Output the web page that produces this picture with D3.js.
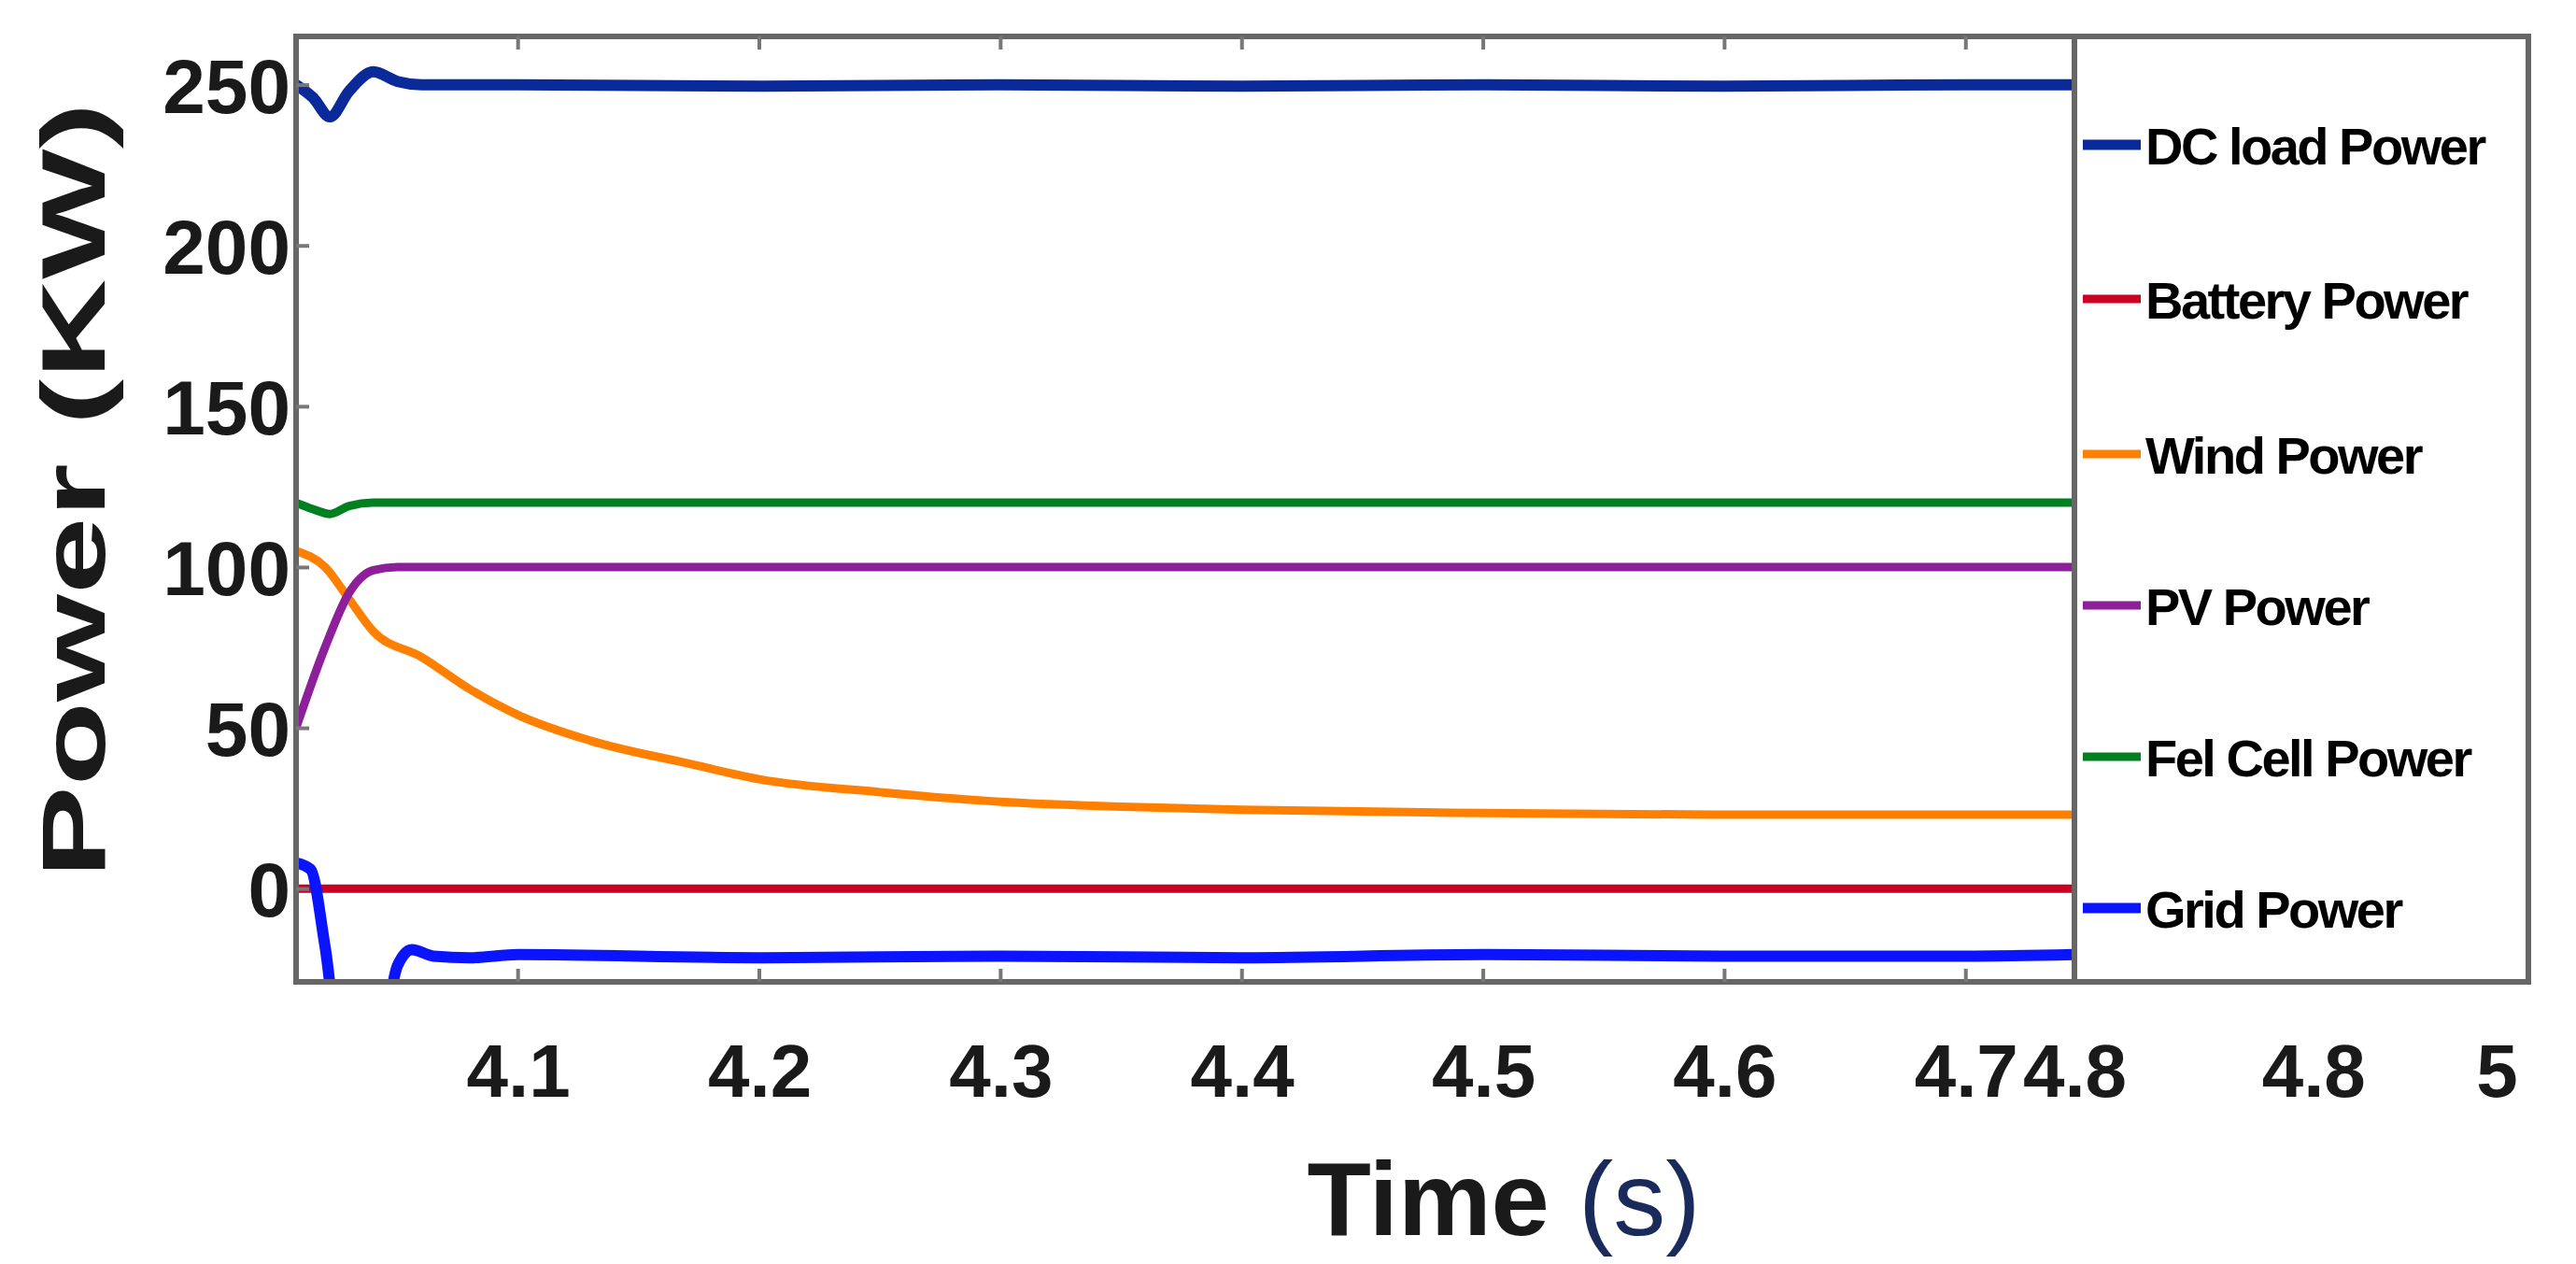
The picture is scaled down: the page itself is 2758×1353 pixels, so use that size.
<!DOCTYPE html>
<html><head><meta charset="utf-8">
<script src="https://cdn.jsdelivr.net/npm/d3@7"></script>
<style>body{margin:0;background:#fff}svg{display:block}</style>
</head><body>
<svg id="chart" width="2758" height="1353"></svg>
<script>
// data
var seriesNames = ['DC load Power','Battery Power','Wind Power','PV Power','Fel Cell Power','Grid Power'];
var seriesColors = ['#0a2a9a','#cc0022','#ff8000','#8e1f9a','#008020','#0a14ff'];
var dcT   = [4.008,4.015,4.022,4.03,4.04,4.05,4.06,4.1,4.2,4.3,4.4,4.5,4.6,4.7,4.745];
var dcV   = [250,246,240,248,254,251,250,250,249.5,250,249.5,250,249.5,250,250];
var batT  = [4.008,4.745];
var batV  = [0,0];
var windT = [4.008,4.02,4.03,4.04,4.06,4.08,4.1,4.13,4.17,4.2,4.25,4.3,4.35,4.4,4.5,4.6,4.745];
var windV = [105,100,90,80,72,62,54,46,39,34,30,27,25.5,24.5,23.5,23,23];
var pvT   = [4.008,4.02,4.03,4.04,4.05,4.1,4.745];
var pvV   = [50,75,92,99,100,100,100];
var fcT   = [4.008,4.015,4.022,4.03,4.04,4.1,4.745];
var fcV   = [120,118,116.5,119,120,120,120];
var gridT = [4.008,4.014,4.02,4.028,4.04,4.05,4.056,4.065,4.08,4.1,4.2,4.3,4.4,4.5,4.6,4.7,4.745];
var gridV = [8,6,-18,-60,-60,-24,-19,-21,-21.5,-20.5,-21.5,-21,-21.5,-20.5,-21,-21,-20.5];
var yTicks = [0,50,100,150,200,250];
var xTickVals = [4.1,4.2,4.3,4.4,4.5,4.6,4.7,4.745,4.844,4.92];
var xTickLabels = ['4.1','4.2','4.3','4.4','4.5','4.6','4.7','4.8','4.8','5'];

var svg = d3.select('#chart');
var L = 317, R = 2221, T = 39, B = 1051, legR = 2707;
var x = d3.scaleLinear().domain([4.008,4.745]).range([L,R]);
var y = d3.scaleLinear().domain([-29,265]).range([B,T]);

svg.append('defs').append('clipPath').attr('id','clip')
  .append('rect').attr('x',L).attr('y',T).attr('width',R-L).attr('height',B-T);

var all = [[dcT,dcV],[batT,batV],[windT,windV],[pvT,pvV],[fcT,fcV],[gridT,gridV]];
var line = d3.line().x(function(d){return x(d[0]);}).y(function(d){return y(d[1]);}).curve(d3.curveMonotoneX);

var g = svg.append('g').attr('clip-path','url(#clip)');
all.forEach(function(s,i){
  var pts = s[0].map(function(t,k){return [t,s[1][k]];});
  g.append('path').attr('d',line(pts)).attr('fill','none')
    .attr('stroke',seriesColors[i]).attr('stroke-width',(i==0||i==5)?12:9);
});

// frame
svg.append('rect').attr('x',L).attr('y',T).attr('width',legR-L).attr('height',B-T)
  .attr('fill','none').attr('stroke','#666').attr('stroke-width',6);
svg.append('line').attr('x1',R).attr('x2',R).attr('y1',T).attr('y2',B).attr('stroke','#666').attr('stroke-width',6);

// y axis ticks
var ya = svg.append('g').attr('transform','translate('+L+',0)')
  .call(d3.axisLeft(y).tickValues(yTicks).tickSize(-14).tickPadding(6));
ya.select('.domain').remove();
ya.selectAll('line').attr('stroke','#777').attr('stroke-width',4);
ya.selectAll('text').attr('font-family','Liberation Sans, Arial').attr('font-weight','bold')
  .attr('font-size',82).attr('fill','#1a1a1a').attr('dy','0.36em');

// x axis labels
var xa = svg.append('g').attr('transform','translate(0,'+B+')')
  .call(d3.axisBottom(x).tickValues(xTickVals).tickSize(0).tickPadding(66)
    .tickFormat(function(d,i){return xTickLabels[i];}));
xa.select('.domain').remove();
xa.selectAll('text').attr('font-family','Liberation Sans, Arial').attr('font-weight','bold')
  .attr('font-size',80).attr('fill','#1a1a1a');
// small ticks inside plot
[4.1,4.2,4.3,4.4,4.5,4.6,4.7].forEach(function(v){
  svg.append('line').attr('x1',x(v)).attr('x2',x(v)).attr('y1',B).attr('y2',B-14).attr('stroke','#777').attr('stroke-width',4);
  svg.append('line').attr('x1',x(v)).attr('x2',x(v)).attr('y1',T).attr('y2',T+14).attr('stroke','#777').attr('stroke-width',4);
});

// legend
var legY = [155,320,486,648,810,972];
seriesNames.forEach(function(n,i){
  svg.append('line').attr('x1',2230).attr('x2',2292).attr('y1',legY[i]).attr('y2',legY[i])
    .attr('stroke',seriesColors[i]).attr('stroke-width',(i==0||i==5)?11:9);
  svg.append('text').attr('x',2297).attr('y',legY[i]).attr('dy','0.38em')
    .attr('font-family','Liberation Sans, Arial').attr('font-weight','bold')
    .attr('font-size',56).attr('letter-spacing',-2.5).attr('fill','#000').text(n);
});

// axis titles
svg.append('text').attr('transform','translate(112,'+((T+B)/2-20)+') rotate(-90)')
  .attr('text-anchor','middle').attr('font-family','Liberation Sans, Arial').attr('font-weight','bold')
  .attr('font-size',96).attr('textLength',830).attr('lengthAdjust','spacingAndGlyphs')
  .attr('fill','#1a1a1a').text('Power (KW)');
var tt = svg.append('text').attr('x',1610).attr('y',1322).attr('text-anchor','middle')
  .attr('font-family','Liberation Sans, Arial').attr('font-size',112).attr('fill','#1a1a1a');
tt.append('tspan').attr('font-weight','bold').text('Time ');
tt.append('tspan').attr('fill','#1a2a5a').text('(s)');
</script>
</body></html>
